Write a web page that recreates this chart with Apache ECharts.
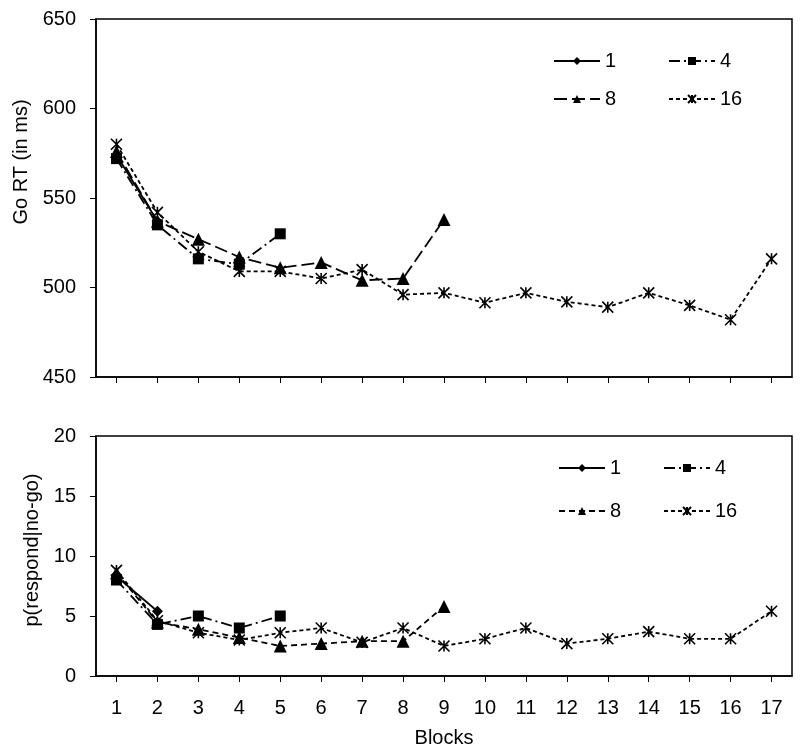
<!DOCTYPE html>
<html>
<head>
<meta charset="utf-8">
<script src="https://cdn.jsdelivr.net/npm/echarts@6/dist/echarts.min.js"></script>
<style>html,body{margin:0;padding:0;background:#fff}#c{width:800px;height:751px}</style>
</head>
<body>
<div id="c"></div>
<script>
const blocks = ['1','2','3','4','5','6','7','8','9','10','11','12','13','14','15','16','17'];
const seriesNames = ['1', '4', '8', '16'];
const rtTicks = [450, 500, 550, 600, 650];
const pTicks = [0, 5, 10, 15, 20];

// Go RT (ms)
const rt1 = [574, 537];
const rt4 = [572, 535, 516, 513, 530];
const rt8 = [576, 537, 527, 517, 511, 514, 504, 505, 538];
const rt16 = [580, 542, 520, 509, 509, 505, 510, 496, 497, 491.5, 497, 492, 489, 497, 490, 482, 516];

// p(respond|no-go)
const p1 = [8.3, 5.4];
const p4 = [8.0, 4.3, 5.0, 4.0, 5.0];
const p8 = [8.6, 4.5, 3.9, 3.2, 2.5, 2.7, 2.9, 2.9, 5.8];
const p16 = [8.8, 4.6, 3.6, 3.0, 3.6, 4.0, 2.8, 4.0, 2.5, 3.1, 4.0, 2.7, 3.1, 3.7, 3.1, 3.1, 5.4];

const FONT = "'Liberation Sans', Arial, sans-serif";
const BLACK = '#000';
const asterisk = 'path://M0 0 L10 10 M10 0 L0 10 M5 0 L5 10';

const styles = {
  '1':  {symbol: 'diamond', size: 11, dash: 'solid'},
  '4':  {symbol: 'rect', size: 11, dash: [11, 4, 2, 4]},
  '8':  {symbol: 'triangle', size: 13, dash: [13, 5]},
  '16': {symbol: asterisk, size: 11, dash: [4, 3]}
};

function mk(name, id, data, gi, dashOverride) {
  const st = styles[name];
  const isStar = name === '16';
  return {
    type: 'line', name: id, data: data,
    xAxisIndex: gi, yAxisIndex: gi,
    symbol: st.symbol, symbolSize: st.size, showSymbol: true,
    lineStyle: {color: BLACK, width: 1.8, type: dashOverride || st.dash},
    itemStyle: isStar ? {color: BLACK, borderColor: BLACK, borderWidth: 1.6} : {color: BLACK, borderWidth: 0},
    emphasis: {disabled: true},
    animation: false, z: 3
  };
}

const series = [
  mk('1', 't1', rt1, 0), mk('4', 't4', rt4, 0), mk('8', 't8', rt8, 0), mk('16', 't16', rt16, 0),
  mk('1', 'b1', p1, 1), mk('4', 'b4', p4, 1), mk('8', 'b8', p8, 1, [6, 4]), mk('16', 'b16', p16, 1)
];

function leg(id, left, centerY) {
  return {
    data: [id], left: left, top: centerY - 11, padding: 0,
    itemWidth: 46, itemHeight: 10, itemGap: 0,
    formatter: n => n.slice(1), selectedMode: false,
    textStyle: {fontFamily: FONT, fontSize: 20, color: BLACK, padding: [0, 0, 0, 0]}
  };
}

const legends = [
  leg('t1', 553, 62), leg('t4', 668, 62), leg('t8', 553, 100), leg('t16', 668, 100),
  leg('b1', 558, 469), leg('b4', 663, 469), leg('b8', 558, 512), leg('b16', 663, 512)
];

function xAx(gi, showLabels) {
  return {
    type: 'category', data: blocks, gridIndex: gi, boundaryGap: true,
    axisLine: {show: true, lineStyle: {color: BLACK, width: 1.5}},
    axisTick: {show: true, alignWithLabel: true, length: 6, lineStyle: {color: BLACK, width: 1}},
    axisLabel: {show: showLabels, margin: 22, fontFamily: FONT, fontSize: 20, color: BLACK},
    splitLine: {show: false},
    name: showLabels ? 'Blocks' : '', nameLocation: 'middle', nameGap: 52,
    nameTextStyle: {fontFamily: FONT, fontSize: 20, color: BLACK}
  };
}

function yAx(gi, ticks, name, gap, pad) {
  return {
    type: 'value', gridIndex: gi, min: ticks[0], max: ticks[ticks.length - 1],
    interval: ticks[1] - ticks[0],
    axisLine: {show: true, lineStyle: {color: BLACK, width: 1.5}},
    axisTick: {show: true, length: 6, lineStyle: {color: BLACK, width: 1}},
    axisLabel: {margin: 20, fontFamily: FONT, fontSize: 20, color: BLACK},
    splitLine: {show: false},
    name: name, nameLocation: 'middle', nameGap: gap, nameRotate: 90,
    nameTextStyle: {fontFamily: FONT, fontSize: 20, color: BLACK, padding: pad}
  };
}

const chart = echarts.init(document.getElementById('c'), null, {renderer: 'canvas'});
chart.setOption({
  backgroundColor: '#fff',
  animation: false,
  grid: [
    {left: 96, right: 8, top: 19, height: 358, show: true, borderColor: BLACK, borderWidth: 1.5, backgroundColor: 'transparent'},
    {left: 96, right: 8, top: 436, height: 240, show: true, borderColor: BLACK, borderWidth: 1.5, backgroundColor: 'transparent'}
  ],
  legend: legends,
  xAxis: [xAx(0, false), xAx(1, true)],
  yAxis: [
    yAx(0, rtTicks, 'Go RT (in ms)', 64, [0, 0, 0, 72]),
    yAx(1, pTicks, 'p(respond|no-go)', 50, [0, 0, 0, 12])
  ],
  series: series
});
</script>
</body>
</html>
